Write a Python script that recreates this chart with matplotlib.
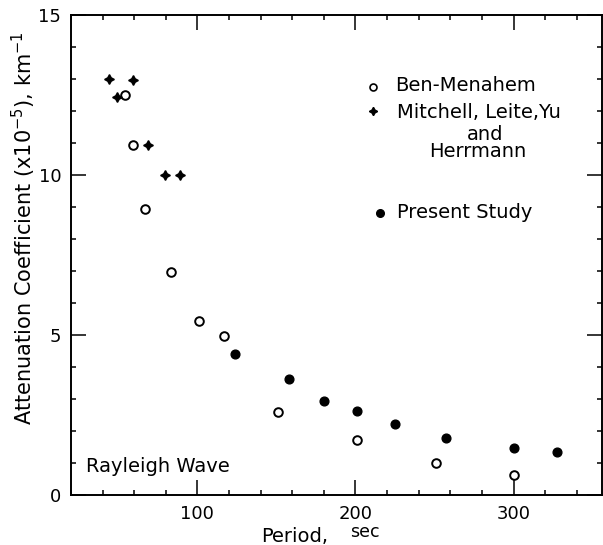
"""
Rayleigh wave attenuation coefficient vs period
"""

import matplotlib
matplotlib.use('Agg')
import matplotlib.pyplot as plt
from matplotlib.ticker import MultipleLocator

# Ben-Menahem (open circles)
ben_period = [54, 59, 67, 83, 101, 117, 151, 201, 251, 300]
ben_atten = [12.5, 10.95, 8.95, 6.97, 5.45, 4.97, 2.6, 1.72, 1.0, 0.62]

# Mitchell, Leite, Yu and Herrmann (crosses)
mit_period = [44, 49, 59, 69, 79.5, 89]
mit_atten = [13.0, 12.45, 12.97, 10.94, 10.0, 10.0]

# Present study (filled circles)
pres_period = [124, 158, 180, 201, 225, 257.5, 300, 327.5]
pres_atten = [4.42, 3.63, 2.94, 2.62, 2.22, 1.78, 1.47, 1.34]

x_ticks = [100, 200, 300]
y_ticks = [0, 5, 10, 15]

plt.rcParams['font.family'] = 'DejaVu Sans'

fig = plt.figure(figsize=(6.03, 5.45), dpi=100)
ax = fig.add_axes([71 / 603, 50 / 545, 531 / 603, 480 / 545])

star = (4, 1, 0)
ax.plot(ben_period, ben_atten, 'o', ms=6.2, mfc='white', mec='black', mew=1.4, ls='none')
ax.plot(mit_period, mit_atten, marker=star, ms=7, color='black', ls='none')
ax.plot(pres_period, pres_atten, 'o', ms=6.3, color='black', ls='none')

ax.set_xlim(20, 356)
ax.set_ylim(0, 15)
ax.set_xticks(x_ticks)
ax.set_yticks(y_ticks)
ax.xaxis.set_minor_locator(MultipleLocator(20))
ax.yaxis.set_minor_locator(MultipleLocator(1))
ax.tick_params(which='both', direction='in', top=True, right=True, width=1.1,
               labelsize=13, color='black')
ax.tick_params(which='major', length=11)
ax.tick_params(which='minor', length=3.8)
ax.tick_params(axis='x', which='major', pad=7)
ax.tick_params(axis='y', which='major', pad=7)
for s in ax.spines.values():
    s.set_linewidth(1.4)

# Axis labels
fig.text(24 / 603, 1 - 228 / 545, 'Attenuation Coefficient (x10$^{-5}$), km$^{-1}$',
         rotation=90, ha='center', va='center', fontsize=15)
fig.text(295 / 603, 1 - 536 / 545, 'Period,', ha='center', va='center', fontsize=14)
fig.text(365 / 603, 1 - 532 / 545, 'sec', ha='center', va='center', fontsize=12.5)

# Legend
tr = ax.transAxes
ax.plot([0.568], [0.849], 'o', ms=5, mfc='white', mec='black', mew=1.2, transform=tr)
ax.text(0.610, 0.854, 'Ben-Menahem', transform=tr, va='center', fontsize=14)
ax.plot([0.569], [0.801], marker=star, ms=6, color='black', transform=tr)
ax.text(0.614, 0.796, 'Mitchell, Leite,Yu', transform=tr, va='center', fontsize=14)
ax.text(0.780, 0.752, 'and', transform=tr, ha='center', va='center', fontsize=14)
ax.text(0.766, 0.715, 'Herrmann', transform=tr, ha='center', va='center', fontsize=14)
ax.plot([0.582], [0.5875], 'o', ms=5.5, color='black', transform=tr)
ax.text(0.614, 0.5875, 'Present Study', transform=tr, va='center', fontsize=14)

ax.text(0.028, 0.060, 'Rayleigh Wave', transform=tr, va='center', fontsize=14)

plt.savefig('out.png', dpi=100)
plt.close(fig)
